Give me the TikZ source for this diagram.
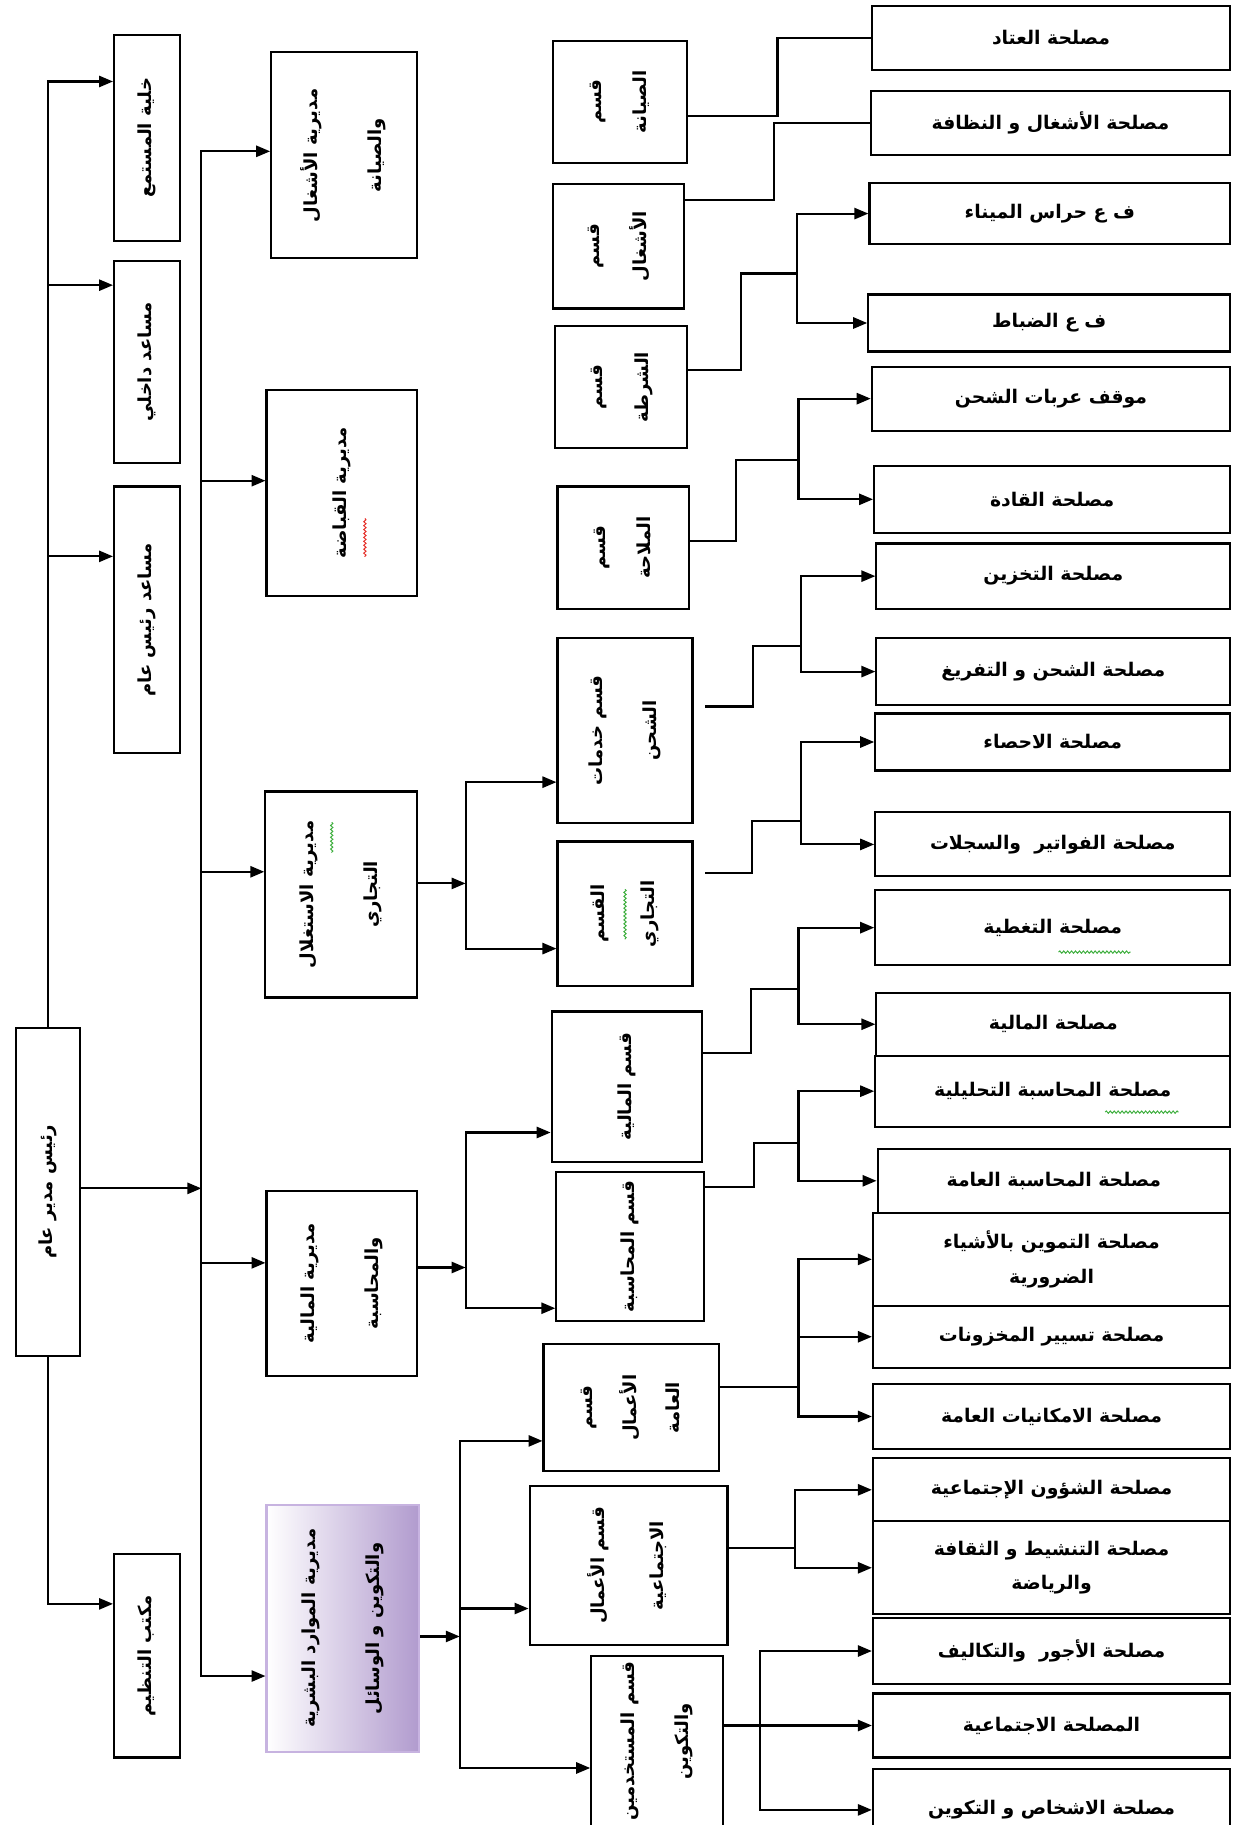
\documentclass[tikz,border=0pt]{standalone}
\usepackage{fontspec}
\usepackage{graphicx}
\usetikzlibrary{arrows.meta,calc,decorations.pathmorphing}
\newfontfamily\arabicfont[Script=Arabic]{DejaVu Sans Bold}
\TeXXeTstate=1
\definecolor{hrmauve}{HTML}{B19BCE}
\definecolor{hredge}{HTML}{C7B3E0}
\definecolor{spellred}{HTML}{E5302A}
\definecolor{spellgreen}{HTML}{3DAE3D}
\newcommand\ar[1]{\beginR #1\endR}
\newcommand\vt[1]{\rotatebox{90}{\begin{tabular}{@{}c@{}}#1\end{tabular}}}

\begin{document}
\begin{tikzpicture}[x=0.025cm,y=-0.025cm,
    b/.style={draw,line width=1.3pt,inner sep=0pt,align=center,
      font=\arabicfont\fontsize{11.5}{14}\selectfont},
    v/.style={b,font=\arabicfont\fontsize{11}{13.5}\selectfont},
    wh/.style 2 args={minimum width=#1*0.025cm,minimum height=#2*0.025cm},
    hr/.style={v,draw=hredge,left color=white,right color=hrmauve},
    l/.style={line width=1.3pt},
    a/.style={l,-{Triangle[length=3mm,width=2.4mm]}},
    gap/.style={shorten <=0.25cm},
    sq/.style={decorate,decoration={snake,amplitude=0.7pt,segment length=2.4pt},line width=0.6pt}]
  \useasboundingbox (0,0) rectangle (1059,1568);
  \clip (0,0) rectangle (1059,1568);

  % general management and staff
  \node[v,wh={55}{282}] (chief) at (41,1024) {\vt{\ar{رئيس مدير عام}}};
  \node[v,wh={57}{177}] (listen) at (126.5,118.5) {\vt{\ar{خلية المستمع}}};
  \node[v,wh={57}{174}] (inner) at (126.5,311) {\vt{\ar{مساعد داخلي}}};
  \node[v,wh={57}{229}] (deputy) at (126.5,532.5) {\vt{\ar{مساعد رئيس عام}}};
  \node[v,wh={57}{175}] (orgof) at (126.5,1422.5) {\vt{\ar{مكتب التنظيم}}};

  % directorates
  \node[v,wh={125}{177}] (dwork) at (295.5,133.5) {\vt{\ar{مديرية الأشغال}\\[0.9cm]\ar{والصيانة}}};
  \node[v,wh={129}{177}] (dcash) at (293.5,423.5) {\vt{\ar{مديرية القباضة}}};
  \node[v,wh={130}{177}] (dexp) at (293,768.5) {\vt{\ar{مديرية الاستغلال}\\[0.9cm]\ar{التجاري}}};
  \node[v,wh={129}{159}] (dfin) at (293.5,1102.5) {\vt{\ar{مديرية المالية}\\[0.9cm]\ar{والمحاسبة}}};
  \node[hr,wh={131}{212}] (dhr) at (294.5,1399) {\vt{\ar{مديرية الموارد البشرية}\\[0.9cm]\ar{والتكوين و الوسائل}}};

  % sections
  \node[v,wh={115}{105}] (qmaint) at (532.5,87.5) {\vt{\ar{قسم}\\[0.5cm]\ar{الصيانة}}};
  \node[v,wh={113}{107}] (qworks) at (531.5,211.5) {\vt{\ar{قسم}\\[0.5cm]\ar{الأشغال}}};
  \node[v,wh={113}{105}] (qpolice) at (533.5,332.5) {\vt{\ar{قسم}\\[0.5cm]\ar{الشرطة}}};
  \node[v,wh={113}{105}] (qnav) at (535.5,470.5) {\vt{\ar{قسم}\\[0.5cm]\ar{الملاحة}}};
  \node[v,wh={116}{159}] (qship) at (537,627.5) {\vt{\ar{قسم خدمات}\\[0.7cm]\ar{الشحن}}};
  \node[v,wh={116}{124}] (qtrade) at (537,785) {\vt{\ar{القسم}\\[0.6cm]\ar{التجاري}}};
  \node[v,wh={129}{129}] (qfin) at (538.5,933.5) {\vt{\ar{قسم المالية}}};
  \node[v,wh={127}{128}] (qacc) at (541.5,1071) {\vt{\ar{قسم المحاسبة}}};
  \node[v,wh={151}{109}] (qgen) at (542.5,1209.5) {\vt{\ar{قسم}\\[0.45cm]\ar{الأعمال}\\[0.45cm]\ar{العامة}}};
  \node[v,wh={170}{136}] (qsoc) at (540,1345) {\vt{\ar{قسم الأعمال}\\[0.8cm]\ar{الاجتماعية}}};
  \node[v,wh={113}{146}] (qstaff) at (564.5,1496) {\vt{\ar{قسم المستخدمين}\\[0.7cm]\ar{والتكوين}}};

  % services
  \node[b,wh={308}{55}] (r1) at (903,32.5) {\ar{مصلحة العتاد}};
  \node[b,wh={309}{55}] (r2) at (902.5,105.5) {\ar{مصلحة الأشغال و النظافة}};
  \node[b,wh={310}{53}] (r3) at (902,183.5) {\ar{ف ع حراس الميناء}};
  \node[b,wh={311}{49}] (r4) at (901.5,277.5) {\ar{ف ع الضباط}};
  \node[b,wh={308}{55}] (r5) at (903,342.5) {\ar{موقف عربات الشحن}};
  \node[b,wh={306}{58}] (r6) at (904,429) {\ar{مصلحة القادة}};
  \node[b,wh={304}{56}] (r7) at (905,495) {\ar{مصلحة التخزين}};
  \node[b,wh={304}{58}] (r8) at (905,577) {\ar{مصلحة الشحن و التفريغ}};
  \node[b,wh={305}{49}] (r9) at (904.5,637.5) {\ar{مصلحة الاحصاء}};
  \node[b,wh={305}{55}] (r10) at (904.5,725.5) {\ar{مصلحة الفواتير\ \ والسجلات}};
  \node[b,wh={305}{64}] (r11) at (904.5,797) {\ar{مصلحة التغطية}};
  \node[b,wh={304}{54}] (r12) at (905,880) {\ar{مصلحة المالية}};
  \node[b,wh={305}{61}] (r13) at (904.5,937.5) {\ar{مصلحة المحاسبة التحليلية}};
  \node[b,wh={303}{55}] (r14) at (905.5,1014.5) {\ar{مصلحة المحاسبة العامة}};
  \node[b,wh={307}{80}] (r15) at (903.5,1082) {\ar{مصلحة التموين بالأشياء}\\[0.25cm]\ar{الضرورية}};
  \node[b,wh={307}{53}] (r16) at (903.5,1148.5) {\ar{مصلحة تسيير المخزونات}};
  \node[b,wh={307}{56}] (r17) at (903.5,1217) {\ar{مصلحة الامكانيات العامة}};
  \node[b,wh={307}{54}] (r18) at (903.5,1280) {\ar{مصلحة الشؤون الإجتماعية}};
  \node[b,wh={307}{80}] (r19) at (903.5,1347) {\ar{مصلحة التنشيط و الثقافة}\\[0.25cm]\ar{والرياضة}};
  \node[b,wh={307}{57}] (r20) at (903.5,1418.5) {\ar{مصلحة الأجور\ \ والتكاليف}};
  \node[b,wh={307}{55}] (r21) at (903.5,1482.5) {\ar{المصلحة الاجتماعية}};
  \node[b,wh={307}{70}] (r22) at (903.5,1555) {\ar{مصلحة الاشخاص و التكوين}};

  % general manager to staff and directorates
  \foreach \s/\y in {listen/70,inner/245,deputy/478}
    \draw[a] (chief.north) |- (\s.west |- 0,\y);
  \draw[a] (chief.south) |- (orgof.west |- 0,1378);
  \coordinate (hub) at (173,1021);
  \draw[a] (chief.east |- hub) -- (hub);
  \foreach \d/\y in {dwork/130,dcash/413,dexp/749,dfin/1085,dhr/1440}
    \draw[a] (hub) |- (\d.west |- 0,\y);

  % directorates to sections
  \coordinate (bx1) at (400,759);
  \draw[a] (dexp.east |- bx1) -- (bx1);
  \draw[a] (bx1) |- (qship.west |- 0,672);
  \draw[a] (bx1) |- (qtrade.west |- 0,815);
  \coordinate (bx2) at (400,1089);
  \draw[a] (dfin.east |- bx2) -- (bx2);
  \draw[a] (bx2) |- (qfin.west |- 0,973);
  \draw[a] (bx2) |- (qacc.west |- 0,1124);
  \coordinate (bx3) at (395,1406);
  \draw[a] (dhr.east |- bx3) -- (bx3);
  \draw[a] (bx3) |- (qgen.west |- 0,1238);
  \draw[a] (bx3) |- (qsoc.west |- 0,1382);
  \draw[a] (bx3) |- (qstaff.west |- 0,1519);

  % sections to services
  \coordinate (e1) at (668,100);
  \draw[l] (qmaint.east |- e1) -- (e1) |- (r1.west);
  \coordinate (e2) at (665,172);
  \draw[l] (qworks.east |- e2) -- (e2) |- (r2.west);
  \coordinate (e3) at (637,318); \coordinate (j3) at (685,235);
  \draw[l] (qpolice.east |- e3) -- (e3) |- (j3);
  \coordinate (e4) at (632,465); \coordinate (j4) at (686,395);
  \draw[l] (qnav.east |- e4) -- (e4) |- (j4);
  \coordinate (e5) at (647,607); \coordinate (j5) at (688,555);
  \draw[l,gap] (qship.east |- e5) -- (e5) |- (j5);
  \coordinate (e6) at (646,750); \coordinate (j6) at (688,705);
  \draw[l,gap] (qtrade.east |- e6) -- (e6) |- (j6);
  \coordinate (e7) at (645,905); \coordinate (j7) at (686,850);
  \draw[l] (qfin.east |- e7) -- (e7) |- (j7);
  \coordinate (e8) at (648,1020); \coordinate (j8) at (686,982);
  \draw[l] (qacc.east |- e8) -- (e8) |- (j8);
  \coordinate (j9) at (686,1192);
  \draw[l] (qgen.east |- j9) -- (j9);
  \coordinate (j10) at (683,1330);
  \draw[l] (qsoc.east |- j10) -- (j10);
  \coordinate (j11) at (653,1482.5);
  \draw[a] (qstaff.east |- r21.west) -- (r21.west);
  \foreach \j/\r in {j3/r3,j3/r4,j4/r5,j4/r6,j5/r7,j5/r8,j6/r9,j6/r10,j7/r11,j7/r12,
      j8/r13,j8/r14,j9/r15,j9/r16,j9/r17,j10/r18,j10/r19,j11/r20,j11/r22}
    \draw[a] (\j) |- (\r.west);

  % spelling marks
  \draw[sq,spellred] ($(dcash.center)+(20,22)$) -- ($(dcash.center)+(20,55)$);
  \draw[sq,spellgreen] ($(dexp.center)+(-8,-62)$) -- ($(dexp.center)+(-8,-36)$);
  \draw[sq,spellgreen] ($(qtrade.center)+(0,-21)$) -- ($(qtrade.center)+(0,22)$);
  \draw[sq,spellgreen] ($(r11.center)+(5,21)$) -- ($(r11.center)+(67,21)$);
  \draw[sq,spellgreen] ($(r13.center)+(45,18)$) -- ($(r13.center)+(108,18)$);
\end{tikzpicture}
\end{document}
